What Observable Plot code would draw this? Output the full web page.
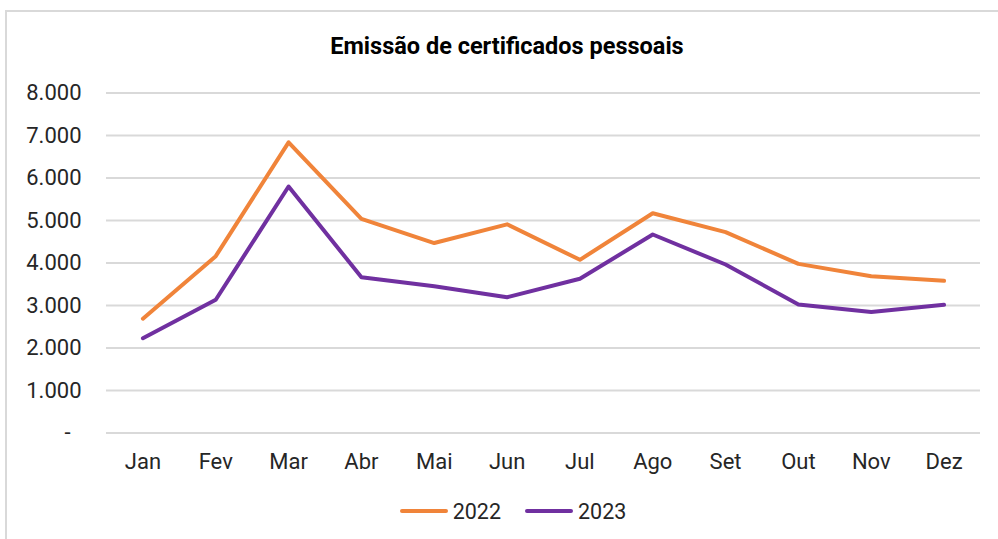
<!DOCTYPE html>
<html>
<head>
<meta charset="utf-8">
<script src="https://cdn.jsdelivr.net/npm/d3@7"></script>
<script src="https://cdn.jsdelivr.net/npm/@observablehq/plot@0.6"></script>
<style>
  body { margin: 0; background: #fff; font-family: Roboto, "Noto Sans", sans-serif; color: #262626; }
  #wrap { position: relative; width: 998px; height: 539px; overflow: hidden; background: #fff; }
  #frame { position: absolute; left: 5px; top: 10px; width: 1100px; height: 700px; border: 2px solid #d9d9d9; box-sizing: border-box; }
  #title { position: absolute; left: 8px; top: 0; width: 998px; height: 70px; line-height: 92px; text-align: center; font-weight: bold; font-size: 23.5px; color: #000; }
  #chart { position: absolute; left: 0; top: 70px; }
  #legend { position: absolute; left: 14px; top: 496px; width: 998px; height: 30px; display: flex; justify-content: center; align-items: center; font-size: 21.5px; color: #262626; }
  .item { display: flex; align-items: center; margin: 0 12px; }
  .sw { width: 48px; height: 4px; border-radius: 2px; margin-right: 5px; }
</style>
</head>
<body>
<div id="wrap">
  <div id="frame"></div>
  <div id="title">Emissão de certificados pessoais</div>
  <div id="chart"></div>
  <div id="legend"></div>
</div>
<script>
const months = ["Jan","Fev","Mar","Abr","Mai","Jun","Jul","Ago","Set","Out","Nov","Dez"];
const series = ["2022","2023"];
const values2022 = [2690, 4160, 6840, 5040, 4470, 4910, 4075, 5170, 4725, 3980, 3690, 3580];
const values2023 = [2230, 3135, 5800, 3665, 3455, 3195, 3630, 4670, 3965, 3025, 2845, 3015];
const colors = ["#f0843a", "#7030a0"];
const yTicks = [0, 1000, 2000, 3000, 4000, 5000, 6000, 7000, 8000];

const data = [];
months.forEach((m, i) => {
  data.push({month: m, year: series[0], value: values2022[i]});
  data.push({month: m, year: series[1], value: values2023[i]});
});

const fmt = v => v === 0 ? "-\u00a0\u00a0" : d3.format(",")(v).replace(/,/g, ".");

const chart = Plot.plot({
  width: 998,
  height: 410,
  marginTop: 22.5,
  marginBottom: 47.5,
  marginLeft: 106,
  marginRight: 18,
  style: {fontFamily: "Roboto, sans-serif", fontSize: "22px", color: "#262626", background: "transparent"},
  x: {type: "point", domain: months, padding: 0.5, round: false, label: null, tickSize: 0, tickPadding: 20},
  y: {domain: [0, 8000], ticks: yTicks, tickFormat: fmt, label: null, tickSize: 0, tickPadding: 25},
  color: {domain: series, range: colors},
  marks: [
    Plot.gridY(yTicks, {stroke: "#d9d9d9", strokeOpacity: 1, strokeWidth: 2}),
    Plot.axisY(yTicks, {tickFormat: fmt, tickSize: 0, tickPadding: 25, fontSize: 22, fill: "#262626"}),
    Plot.axisX({tickSize: 0, tickPadding: 20, fontSize: 22, fill: "#262626"}),
    Plot.line(data, {x: "month", y: "value", z: "year", stroke: "year", strokeWidth: 4, strokeLinecap: "round", strokeLinejoin: "round"})
  ]
});
document.getElementById("chart").appendChild(chart);

const legend = document.getElementById("legend");
series.forEach((s, i) => {
  const it = document.createElement("div");
  it.className = "item";
  const sw = document.createElement("span");
  sw.className = "sw";
  sw.style.background = colors[i];
  const t = document.createElement("span");
  t.textContent = s;
  it.appendChild(sw); it.appendChild(t);
  legend.appendChild(it);
});
</script>
</body>
</html>
